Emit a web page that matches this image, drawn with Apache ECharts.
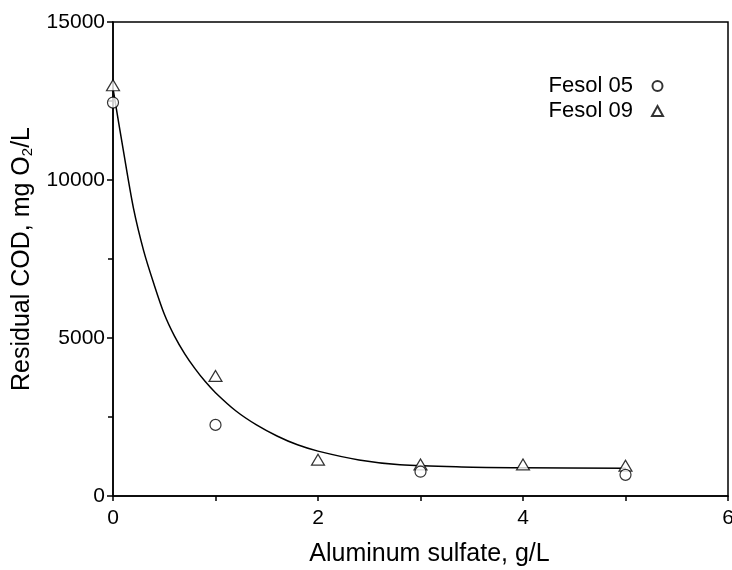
<!DOCTYPE html>
<html>
<head>
<meta charset="utf-8">
<script src="https://cdn.jsdelivr.net/npm/echarts@6/dist/echarts.min.js"></script>
<style>
  html, body { margin: 0; padding: 0; background: #fff; }
  #chart { width: 732px; height: 570px; }
</style>
</head>
<body>
<div id="chart"></div>
<script>
// dose of aluminum sulfate, g/L
const dose = [0, 1, 2, 3, 4, 5]
// residual COD, mg O2/L
const fesol05 = [12450, 2250, null, 770, null, 670]
const fesol09 = [13000, 3800, 1150, 1000, 1000, 960]

// fitted curve
const fitX = [0, 0.1, 0.2, 0.3, 0.4, 0.5, 0.6, 0.7, 0.8, 0.9, 1.0, 1.2, 1.4, 1.6, 1.8, 2.0, 2.4, 2.8, 3.4, 4.0, 5.0]
const fitY = [12900, 10950, 9100, 7750, 6700, 5760, 5060, 4500, 4030, 3620, 3270, 2690, 2250, 1900, 1620, 1420, 1140, 990, 920, 895, 880]

const pairs = (xs, ys) => xs.map((x, i) => [x, ys[i]]).filter(p => p[1] != null)

const font = 'Liberation Sans, Arial, sans-serif'
const black = '#000'

const chart = echarts.init(document.getElementById('chart'))

const option = {
  backgroundColor: '#fff',
  animation: false,
  textStyle: { fontFamily: font, color: black },
  grid: {
    left: 113,
    right: 4,
    top: 22,
    bottom: 74,
    outerBoundsMode: 'none',
    containLabel: false,
    show: true,
    borderColor: black,
    borderWidth: 1.5
  },
  legend: {
    orient: 'vertical',
    right: 63,
    top: 70,
    align: 'right',
    itemGap: 3,
    itemWidth: 11,
    itemHeight: 10,
    textStyle: { fontSize: 22, color: black, fontFamily: font, padding: [0, 14, 0, 0] },
    data: ['Fesol 05', 'Fesol 09']
  },
  xAxis: {
    type: 'value',
    min: 0,
    max: 6,
    interval: 2,
    name: 'Aluminum sulfate, g/L',
    nameLocation: 'middle',
    nameGap: 46,
    nameTextStyle: { fontSize: 25, color: black, padding: [0, 0, 0, 18] },
    axisLine: { lineStyle: { color: black, width: 1.5 } },
    axisTick: { show: true, length: 5, inside: false, lineStyle: { color: black, width: 1.5 } },
    minorTick: { show: true, splitNumber: 2, length: 5, lineStyle: { color: black, width: 1.5 } },
    axisLabel: { fontSize: 21, color: black, margin: 12, formatter: v => String(v) },
    splitLine: { show: false },
    minorSplitLine: { show: false }
  },
  yAxis: {
    type: 'value',
    min: 0,
    max: 15000,
    interval: 5000,
    name: 'Residual COD, mg O{sub|2}/L',
    nameLocation: 'middle',
    nameGap: 78,
    nameRotate: 90,
    nameTextStyle: {
      fontSize: 25,
      color: black,
      rich: {
        sub: { fontSize: 15, verticalAlign: 'bottom', padding: [10, 0, 0, 0], color: black }
      }
    },
    axisLine: { show: true, lineStyle: { color: black, width: 1.5 } },
    axisTick: { show: true, length: 6, lineStyle: { color: black, width: 1.5 } },
    minorTick: { show: true, splitNumber: 2, length: 5, lineStyle: { color: black, width: 1.5 } },
    axisLabel: { fontSize: 21, color: black, margin: 8, formatter: v => String(v) },
    splitLine: { show: false },
    minorSplitLine: { show: false }
  },
  series: [
    {
      name: 'fit',
      type: 'line',
      data: pairs(fitX, fitY),
      smooth: 0.3,
      showSymbol: false,
      symbol: 'none',
      lineStyle: { color: black, width: 1.5 },
      z: 1
    },
    {
      name: 'Fesol 05',
      type: 'scatter',
      data: pairs(dose, fesol05),
      symbol: 'circle',
      symbolSize: 11,
      itemStyle: { color: '#fff', borderColor: black, borderWidth: 1.2 },
      z: 3
    },
    {
      name: 'Fesol 09',
      type: 'scatter',
      data: pairs(dose, fesol09),
      symbol: 'triangle',
      symbolSize: [13, 11],
      itemStyle: { color: '#fff', borderColor: black, borderWidth: 1.2 },
      z: 2
    }
  ]
}

chart.setOption(option)
</script>
</body>
</html>
